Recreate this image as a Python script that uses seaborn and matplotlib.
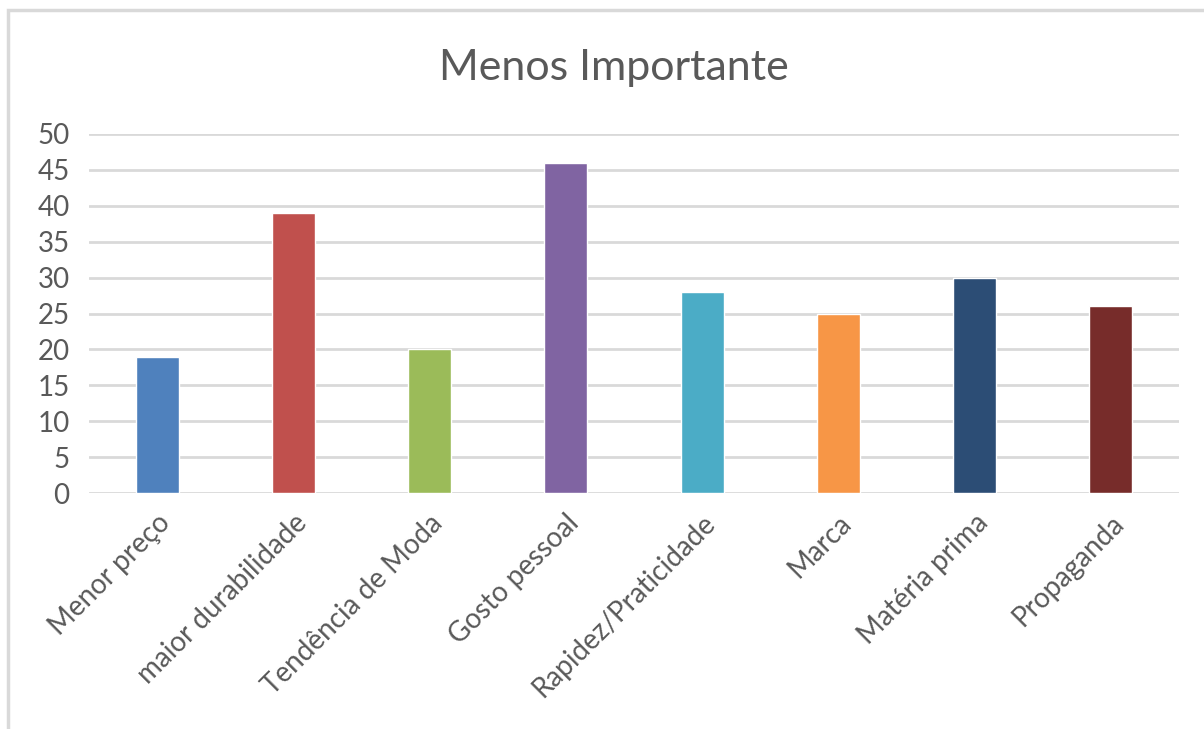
import matplotlib
matplotlib.use("Agg")
import matplotlib.pyplot as plt
import seaborn as sns
import pandas as pd

categories = ["Menor preço", "maior durabilidade", "Tendência de Moda", "Gosto pessoal",
              "Rapidez/Praticidade", "Marca", "Matéria prima", "Propaganda"]
values = [19, 39, 20, 46, 28, 25, 30, 26]
bar_colors = ["#4F81BD", "#C0504D", "#9BBB59", "#8064A2",
              "#4BACC6", "#F79646", "#2C4D75", "#772C2A"]
y_ticks = [0, 5, 10, 15, 20, 25, 30, 35, 40, 45, 50]
title = "Menos Importante"

sns.set_theme(style="white")
plt.rcParams["font.family"] = ["Lato", "DejaVu Sans"]

df = pd.DataFrame({"categoria": categories, "valor": values})

fig = plt.figure(figsize=(12.04, 7.29), dpi=100)
ax = fig.add_axes([0.0739, 0.3237, 0.9053, 0.4925])

sns.barplot(data=df, x="categoria", y="valor", hue="categoria",
            palette=bar_colors, width=0.316, legend=False, ax=ax,
            saturation=1, zorder=3)

ax.set_ylim(0, 50)
ax.set_xlim(-0.5, len(categories) - 0.5)
ax.set_yticks(y_ticks)
ax.yaxis.grid(True, color="#D9D9D9", linewidth=2)
ax.set_axisbelow(True)
for s in ax.spines.values():
    s.set_visible(False)
ax.set_xlabel("")
ax.set_ylabel("")
ax.tick_params(axis="y", length=0, pad=14, labelsize=20, labelcolor="#595959")
ax.tick_params(axis="x", length=0, pad=12, labelsize=20, labelcolor="#595959")
ax.set_xticks(range(len(categories)))
ax.set_xticklabels(categories, rotation=45, ha="right", rotation_mode="anchor")

fig.text(0.51, 0.907, title, ha="center", va="center", fontsize=31, color="#595959")

# outer chart frame
frame = plt.Rectangle((8 / 1204, -0.1), 1.2, 1 - 10 / 729 + 0.1, transform=fig.transFigure,
                      fill=False, edgecolor="#D9D9D9", linewidth=2.5)
fig.patches.append(frame)

fig.savefig("out.png", dpi=100, facecolor="white")
